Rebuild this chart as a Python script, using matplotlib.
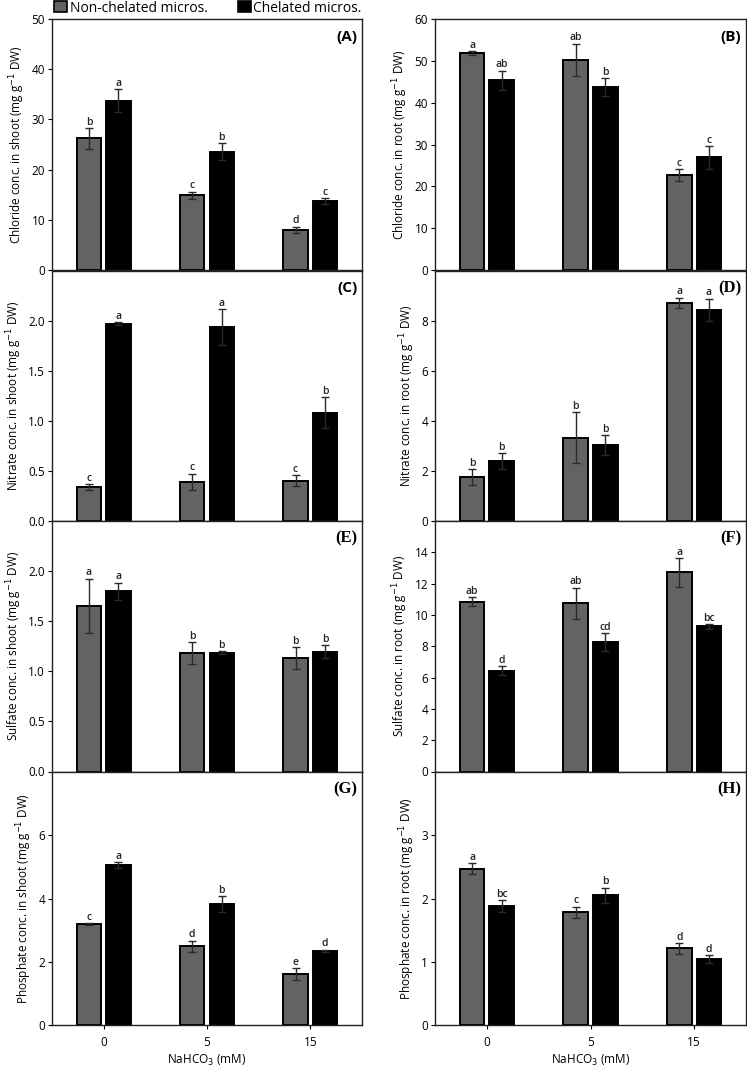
import matplotlib
matplotlib.use("Agg")
import matplotlib.pyplot as plt
import numpy as np
from matplotlib.patches import Patch

plt.rcParams['font.family'] = ['Open Sans', 'DejaVu Sans']

categories = ["0", "5", "15"]
series_names = ["Non-chelated micros.", "Chelated micros."]

# Panel A: Chloride shoot
clS_non = [26.2, 14.9, 8.0]
clS_non_err = [2.0, 0.7, 0.65]
clS_che = [33.7, 23.6, 13.7]
clS_che_err = [2.3, 1.7, 0.6]
clS_let_non = ["b", "c", "d"]
clS_let_che = ["a", "b", "c"]

# Panel B: Chloride root
clR_non = [51.8, 50.2, 22.7]
clR_non_err = [0.5, 3.9, 1.4]
clR_che = [45.3, 43.7, 26.9]
clR_che_err = [2.35, 2.1, 2.7]
clR_let_non = ["a", "ab", "c"]
clR_let_che = ["ab", "b", "c"]

# Panel C: Nitrate shoot
noS_non = [0.336, 0.393, 0.403]
noS_non_err = [0.03, 0.08, 0.055]
noS_che = [1.967, 1.933, 1.081]
noS_che_err = [0.015, 0.18, 0.155]
noS_let_non = ["c", "c", "c"]
noS_let_che = ["a", "a", "b"]

# Panel D: Nitrate root
noR_non = [1.76, 3.33, 8.72]
noR_non_err = [0.31, 1.02, 0.2]
noR_che = [2.38, 3.03, 8.43]
noR_che_err = [0.32, 0.41, 0.45]
noR_let_non = ["b", "b", "a"]
noR_let_che = ["b", "b", "a"]

# Panel E: Sulfate shoot
soS_non = [1.656, 1.183, 1.131]
soS_non_err = [0.27, 0.11, 0.11]
soS_che = [1.80, 1.187, 1.197]
soS_che_err = [0.085, 0.015, 0.066]
soS_let_non = ["a", "b", "b"]
soS_let_che = ["a", "b", "b"]

# Panel F: Sulfate root
soR_non = [10.85, 10.75, 12.72]
soR_non_err = [0.28, 1.0, 0.92]
soR_che = [6.44, 8.27, 9.28]
soR_che_err = [0.3, 0.59, 0.15]
soR_let_non = ["ab", "ab", "a"]
soR_let_che = ["d", "cd", "bc"]

# Panel G: Phosphate shoot
poS_non = [3.19, 2.49, 1.61]
poS_non_err = [0.04, 0.18, 0.19]
poS_che = [5.05, 3.83, 2.34]
poS_che_err = [0.1, 0.25, 0.04]
poS_let_non = ["c", "d", "e"]
poS_let_che = ["a", "b", "d"]

# Panel H: Phosphate root
poR_non = [2.47, 1.78, 1.21]
poR_non_err = [0.09, 0.09, 0.085]
poR_che = [1.88, 2.05, 1.04]
poR_che_err = [0.09, 0.12, 0.065]
poR_let_non = ["a", "c", "d"]
poR_let_che = ["bc", "b", "d"]

panels = [
    ("(A)", "Chloride conc. in shoot (mg g$^{-1}$ DW)", clS_non, clS_non_err, clS_che, clS_che_err, clS_let_non, clS_let_che, 50, [0, 10, 20, 30, 40, 50], "{:.0f}", "sans"),
    ("(B)", "Chloride conc. in root (mg g$^{-1}$ DW)", clR_non, clR_non_err, clR_che, clR_che_err, clR_let_non, clR_let_che, 60, [0, 10, 20, 30, 40, 50, 60], "{:.0f}", "sans"),
    ("(C)", "Nitrate conc. in shoot (mg g$^{-1}$ DW)", noS_non, noS_non_err, noS_che, noS_che_err, noS_let_non, noS_let_che, 2.5, [0, 0.5, 1.0, 1.5, 2.0], "{:.1f}", "sans"),
    ("(D)", "Nitrate conc. in root (mg g$^{-1}$ DW)", noR_non, noR_non_err, noR_che, noR_che_err, noR_let_non, noR_let_che, 10, [0, 2, 4, 6, 8], "{:.0f}", "serif"),
    ("(E)", "Sulfate conc. in shoot (mg g$^{-1}$ DW)", soS_non, soS_non_err, soS_che, soS_che_err, soS_let_non, soS_let_che, 2.5, [0, 0.5, 1.0, 1.5, 2.0], "{:.1f}", "serif"),
    ("(F)", "Sulfate conc. in root (mg g$^{-1}$ DW)", soR_non, soR_non_err, soR_che, soR_che_err, soR_let_non, soR_let_che, 16, [0, 2, 4, 6, 8, 10, 12, 14], "{:.0f}", "serif"),
    ("(G)", "Phosphate conc. in shoot (mg g$^{-1}$ DW)", poS_non, poS_non_err, poS_che, poS_che_err, poS_let_non, poS_let_che, 8, [0, 2, 4, 6], "{:.0f}", "serif"),
    ("(H)", "Phosphate conc. in root (mg g$^{-1}$ DW)", poR_non, poR_non_err, poR_che, poR_che_err, poR_let_non, poR_let_che, 4, [0, 1, 2, 3], "{:.0f}", "serif"),
]

W, H = 747, 1068
fig = plt.figure(figsize=(W / 100, H / 100), dpi=100)

col_x = [(52, 362), (435, 746)]
row_y = [(19, 270), (270.5, 521), (521, 771.5), (772, 1025)]

grey = "#636363"
x = np.arange(len(categories))
bw = 0.237
off = 0.143

for i, (lab, ylab, vn, en, vc, ec, ln, lc, ymax, yt, fmt, lfont) in enumerate(panels):
    r, c = divmod(i, 2)
    x0, x1 = col_x[c]
    y0, y1 = row_y[r]
    ax = fig.add_axes([x0 / W, 1 - y1 / H, (x1 - x0) / W, (y1 - y0) / H])
    ax.bar(x - off, vn, bw, color=grey, edgecolor="black", linewidth=1.4, zorder=2)
    ax.bar(x + off, vc, bw, color="black", edgecolor="black", linewidth=1.4, zorder=2)
    ax.errorbar(x - off, vn, yerr=en, fmt="none", ecolor="#2a2a2a", elinewidth=1.0, capsize=3, capthick=1.0, zorder=3)
    ax.errorbar(x + off, vc, yerr=ec, fmt="none", ecolor="#2a2a2a", elinewidth=1.0, capsize=3, capthick=1.0, zorder=3)
    for xi, v, e, t in zip(x - off, vn, en, ln):
        ax.annotate(t, (xi, v + e), xytext=(0, 0.2), textcoords="offset points", ha="center", va="bottom", fontsize=7.5, color="#222222", fontweight="semibold")
    for xi, v, e, t in zip(x + off, vc, ec, lc):
        ax.annotate(t, (xi, v + e), xytext=(0, 0.2), textcoords="offset points", ha="center", va="bottom", fontsize=7.5, color="#222222", fontweight="semibold")
    ax.set_xlim(-0.5, len(categories) - 0.5)
    ax.set_ylim(0, ymax)
    ax.set_yticks(yt)
    ax.set_yticklabels([fmt.format(t) for t in yt], fontsize=8.5)
    ax.tick_params(axis="y", direction="out", length=3, width=0.8, pad=2)
    for s in ax.spines.values():
        s.set_linewidth(1.0)
        s.set_color("#222222")
    ax.set_ylabel(ylab, fontsize=8.5, labelpad=3)
    if lfont == "sans":
        ax.text(0.985, 0.93, lab, transform=ax.transAxes, ha="right", va="center", fontsize=11, fontweight="bold", family=["Open Sans", "DejaVu Sans"])
    else:
        ax.text(0.985, 0.93, lab, transform=ax.transAxes, ha="right", va="center", fontsize=12, fontweight="bold", family=["Liberation Serif", "DejaVu Serif"])
    if r == 3:
        ax.set_xticks(x)
        ax.set_xticklabels(categories, fontsize=8.5)
        ax.tick_params(axis="x", direction="out", length=3, width=0.8, pad=5)
        ax.set_xlabel("NaHCO$_3$ (mM)", fontsize=8.5, labelpad=3)
    else:
        ax.set_xticks([])

handles = [Patch(facecolor=grey, edgecolor="black", linewidth=1.2), Patch(facecolor="black", edgecolor="black", linewidth=1.2)]
fig.legend(handles, series_names, loc="center", bbox_to_anchor=(208 / W, 1 - 8 / H), ncol=2, frameon=False,
           fontsize=10, handlelength=0.9, handleheight=0.9, handletextpad=0.2, columnspacing=2.2, borderpad=0)

fig.savefig("out.png", dpi=100)
